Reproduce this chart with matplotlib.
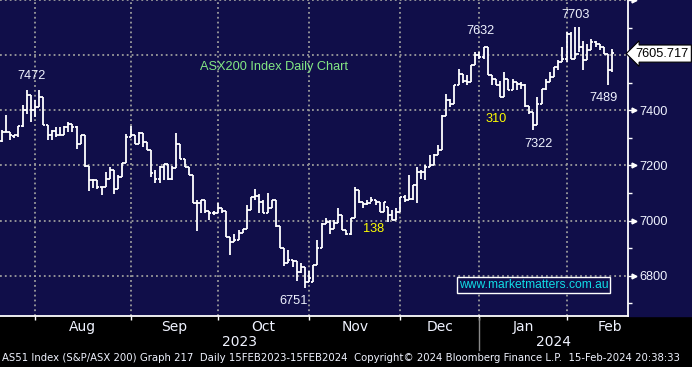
import matplotlib
matplotlib.use("Agg")
import numpy as np
import pandas as pd
import matplotlib.pyplot as plt
from matplotlib.collections import LineCollection
from matplotlib.patches import Rectangle
from matplotlib import font_manager

# Daily OHLC of AS51 (S&P/ASX 200), 19 Jul 2023 - 15 Feb 2024
opens = [7290, 7321, 7321, 7305, 7309, 7342, 7400, 7457, 7400, 7412,
         7448, 7346, 7312, 7324, 7309, 7312, 7340, 7352, 7340, 7277,
         7309, 7197, 7146, 7146, 7122, 7122, 7152, 7183, 7116, 7159,
         7210, 7303, 7309, 7279, 7318, 7285, 7255, 7173, 7152, 7195,
         7207, 7152, 7189, 7279, 7225, 7195, 7165, 7065, 7062, 7074,
         7035, 7026, 7026, 7047, 7035, 6941, 6923, 6929, 6956, 6968,
         7040, 7086, 7088, 7068, 7026, 7044, 7074, 6980, 6899, 6845,
         6857, 6854, 6815, 6833, 6778, 6778, 6839, 6899, 6987, 6996,
         6971, 6990, 7020, 6965,
         6953, 7008, 7110, 7068, 7060, 7062, 7074, 7068, 7032, 7050,
         7020, 7002, 7032, 7086, 7074, 7080, 7128, 7177, 7177, 7195,
         7201, 7237, 7255, 7378, 7436, 7424, 7490, 7533, 7508, 7502,
         7563, 7599, 7593, 7629, 7527, 7514, 7490, 7448, 7514, 7472,
         7502, 7496, 7490, 7414, 7394, 7346, 7424, 7478, 7502, 7520,
         7557, 7575, 7587, 7677, 7587, 7605, 7629, 7581, 7617, 7647,
         7641, 7629, 7605, 7545]
highs = [7327, 7384, 7321, 7312, 7342, 7420, 7472, 7457, 7436, 7472,
         7448, 7346, 7327, 7340, 7340, 7342, 7356, 7352, 7342, 7309,
         7309, 7197, 7150, 7146, 7122, 7177, 7195, 7183, 7165, 7210,
         7315, 7342, 7309, 7321, 7318, 7285, 7255, 7183, 7198, 7207,
         7207, 7198, 7319, 7279, 7225, 7195, 7165, 7074, 7076, 7074,
         7035, 7035, 7065, 7047, 7035, 6941, 6953, 6965, 6971, 7056,
         7086, 7113, 7098, 7074, 7101, 7074, 7074, 6980, 6899, 6895,
         6857, 6853, 6845, 6833, 6818, 6839, 6929, 6990, 7008, 7002,
         7002, 7044, 7020, 6965,
         7008, 7122, 7110, 7068, 7074, 7086, 7074, 7068, 7068, 7050,
         7038, 7044, 7086, 7092, 7165, 7128, 7195, 7183, 7201, 7237,
         7243, 7273, 7382, 7460, 7442, 7490, 7551, 7533, 7527, 7563,
         7611, 7611, 7629, 7629, 7527, 7514, 7508, 7539, 7514, 7514,
         7502, 7502, 7496, 7414, 7394, 7448, 7478, 7514, 7539, 7557,
         7581, 7629, 7683, 7683, 7701, 7701, 7653, 7641, 7659, 7653,
         7641, 7629, 7605, 7623]
lows = [7285, 7321, 7291, 7300, 7303, 7340, 7388, 7358, 7376, 7412,
        7346, 7291, 7291, 7303, 7309, 7312, 7321, 7321, 7261, 7277,
        7195, 7108, 7120, 7116, 7092, 7122, 7152, 7095, 7113, 7159,
        7210, 7303, 7277, 7277, 7267, 7255, 7159, 7137, 7137, 7149,
        7149, 7146, 7189, 7225, 7195, 7165, 7065, 6962, 7026, 7026,
        7002, 7020, 7026, 7029, 6941, 6875, 6923, 6929, 6956, 6968,
        7040, 7076, 7026, 7026, 7026, 7044, 6977, 6899, 6835, 6845,
        6833, 6781, 6811, 6754, 6778, 6778, 6839, 6899, 6987, 6953,
        6971, 6990, 6965, 6947,
        6947, 7008, 7062, 7044, 7056, 7068, 7056, 7032, 7032, 6996,
        7002, 7002, 7032, 7068, 7074, 7074, 7062, 7152, 7146, 7195,
        7201, 7237, 7255, 7378, 7412, 7424, 7490, 7499, 7490, 7502,
        7563, 7587, 7587, 7527, 7490, 7490, 7448, 7448, 7472, 7472,
        7472, 7478, 7412, 7388, 7327, 7346, 7424, 7472, 7502, 7520,
        7545, 7575, 7575, 7587, 7587, 7611, 7545, 7581, 7617, 7629,
        7617, 7605, 7490, 7539]
closes = [7321, 7321, 7309, 7309, 7342, 7400, 7457, 7400, 7412, 7448,
          7346, 7312, 7324, 7309, 7312, 7340, 7352, 7340, 7277, 7309,
          7197, 7146, 7146, 7122, 7122, 7152, 7183, 7116, 7159, 7210,
          7303, 7309, 7279, 7318, 7285, 7255, 7173, 7152, 7195, 7207,
          7152, 7189, 7279, 7225, 7195, 7165, 7065, 7062, 7074, 7035,
          7026, 7026, 7047, 7035, 6941, 6923, 6929, 6956, 6968, 7040,
          7086, 7088, 7068, 7026, 7044, 7074, 6980, 6899, 6845, 6857,
          6854, 6815, 6833, 6778, 6790, 6839, 6899, 6987, 6996, 6971,
          6990, 7020, 6965, 6953,
          7008, 7110, 7068, 7060, 7062, 7074, 7068, 7032, 7068, 7020,
          7002, 7032, 7086, 7074, 7080, 7128, 7177, 7177, 7195, 7201,
          7237, 7255, 7378, 7436, 7424, 7490, 7533, 7508, 7502, 7563,
          7599, 7593, 7629, 7527, 7514, 7490, 7448, 7514, 7472, 7502,
          7496, 7490, 7414, 7394, 7346, 7424, 7478, 7502, 7520, 7557,
          7575, 7587, 7677, 7587, 7605, 7629, 7581, 7617, 7647, 7641,
          7629, 7605, 7545, 7606]
last_price = 7605.717

holidays = ["2023-12-25", "2023-12-26", "2024-01-01", "2024-01-26"]
month_names = ["Aug", "Sep", "Oct", "Nov", "Dec", "Jan", "Feb"]
month_starts = ["2023-08-01", "2023-09-01", "2023-10-01", "2023-11-01",
                "2023-12-01", "2024-01-01", "2024-02-01", "2024-03-01"]

# chart call-outs: (text, bar index, price level, colour)
notes = [("7472", 7.1, 7526, "w"), ("6751", 70.2, 6708, "w"),
         ("138", 89.4, 6969, "y"), ("7632", 115.2, 7686, "w"),
         ("310", 119.0, 7367, "y"), ("7322", 129.2, 7277, "w"),
         ("7703", 138.1, 7747, "w"), ("7489", 144.8, 7443, "w")]

navy = "#100e49"
white = "#f0f3ff"
font = "Liberation Sans"
names = {f.name for f in font_manager.fontManager.ttflist}
narrow = "Liberation Sans Narrow" if "Liberation Sans Narrow" in names else "DejaVu Sans"

# trading days (ASX holidays removed), extended to March for month spans
full = pd.bdate_range(end="2024-03-04", start="2023-07-01", freq="C", holidays=holidays)
full = full[full.get_loc(full[full <= "2024-02-15"][-len(closes)]):]
x = np.arange(len(closes))

fig = plt.figure(figsize=(6.92, 3.67), dpi=100, facecolor="black")
fig.patches.append(Rectangle((628 / 692, 51 / 367), 64 / 692, 316 / 367,
                             transform=fig.transFigure, color=navy, zorder=-5))
ax = fig.add_axes([0, 51 / 367, 628 / 692, 316 / 367])
ax.set_facecolor(navy)

# OHLC bars
segs = []
for i in x:
    segs.append([(i, lows[i]), (i, highs[i])])
    segs.append([(i - 0.48, opens[i]), (i, opens[i])])
    segs.append([(i, closes[i]), (i + 0.48, closes[i])])
ax.add_collection(LineCollection(segs, colors="white", linewidths=1.3,
                                 capstyle="butt", zorder=3))

ax.set_xlim(-0.45, 150.8)
ax.set_ylim(6654, 7798)

# month boundaries / labels
tick_pos = [full.searchsorted(pd.Timestamp(d)) - 1.0 for d in month_starts]
ax.set_xticks(tick_pos[:-1])
ax.set_xticklabels([])
centers = [(a + b) / 2 for a, b in zip(tick_pos[:-1], tick_pos[1:])]
ax.set_xticks(centers, labels=month_names, minor=True)
ax.tick_params(axis="x", which="major", length=3, width=1, color="white", direction="out")
ax.tick_params(axis="x", which="minor", length=0, pad=3, labelsize=10,
               labelcolor=white, labelfontfamily=narrow)

ax.yaxis.tick_right()
ax.set_yticks(range(6800, 7801, 200))
ax.set_yticklabels(["6800", "7000", "7200", "7400", "", ""])
ax.set_yticks(range(6700, 7800, 200), minor=True)
ax.tick_params(axis="y", which="major", length=6, width=1, color="white",
               pad=2, labelsize=9.2, labelcolor=white, labelfontfamily=font)
ax.tick_params(axis="y", which="minor", length=3, width=1, color="white")
ytr = ax.get_yaxis_transform()
ax.plot([1.009] * 6, range(6800, 7801, 200), ">", ms=3.5, color="white",
        transform=ytr, clip_on=False)

ax.grid(True, which="major", color="#9c9c9c", linestyle=(0, (1, 1.7)), linewidth=1.3)
ax.set_axisbelow(True)
for s in ["top", "left"]:
    ax.spines[s].set_visible(False)
for s in ["bottom", "right"]:
    ax.spines[s].set_color("white")
    ax.spines[s].set_linewidth(1.3)

# year row
xtr = ax.get_xaxis_transform()
jan = tick_pos[5]
xl = ax.get_xlim()
ax.plot([jan, jan], [-0.005, -0.108], color="#8a8a8a", lw=1, transform=xtr, clip_on=False)
ax.text((xl[0] + jan) / 2, -0.083, "2023", transform=xtr, ha="center", va="center",
        color=white, fontsize=10, family=narrow)
ax.text((jan + xl[1]) / 2, -0.083, "2024", transform=xtr, ha="center", va="center",
        color=white, fontsize=10, family=narrow)

# texts inside plot
ax.text(0.436, 0.788, "ASX200 Index Daily Chart", transform=ax.transAxes,
        ha="center", va="center", color="#84e884", fontsize=9.2, family=font)
for txt, xi, yv, c in notes:
    ax.text(xi, yv, txt, ha="center", va="center", fontsize=9.2, family=font,
            color="#ffff00" if c == "y" else white, zorder=4)
ax.text(0.850, 0.098, "www.marketmatters.com.au", transform=ax.transAxes,
        ha="center", va="center", color="#10dce6", fontsize=8.7, family=font,
        bbox=dict(boxstyle="square,pad=0.15", fc=navy, ec="white", lw=1))

ax.annotate(f"{last_price:.3f}", xy=(1.0, last_price), xycoords=ytr,
            xytext=(1.012, last_price), textcoords=ytr, ha="left", va="center",
            fontsize=9.2, family=font, color="black", annotation_clip=False,
            bbox=dict(boxstyle="larrow,pad=0.2", fc="white", ec="black", lw=0.8))

footer = ("AS51 Index (S&P/ASX 200) Graph 217  Daily 15FEB2023-15FEB2024  "
          "Copyright\u00a9 2024 Bloomberg Finance L.P.  15-Feb-2024 20:38:33")
ft = fig.text(0.003, 9 / 367, footer, ha="left", va="center", color=white,
              fontsize=9.5, family=narrow)
fig.canvas.draw()
w = ft.get_window_extent().width
ft.set_fontsize(9.5 * 688 / w)

fig.savefig("out.png", dpi=100, facecolor="black")
